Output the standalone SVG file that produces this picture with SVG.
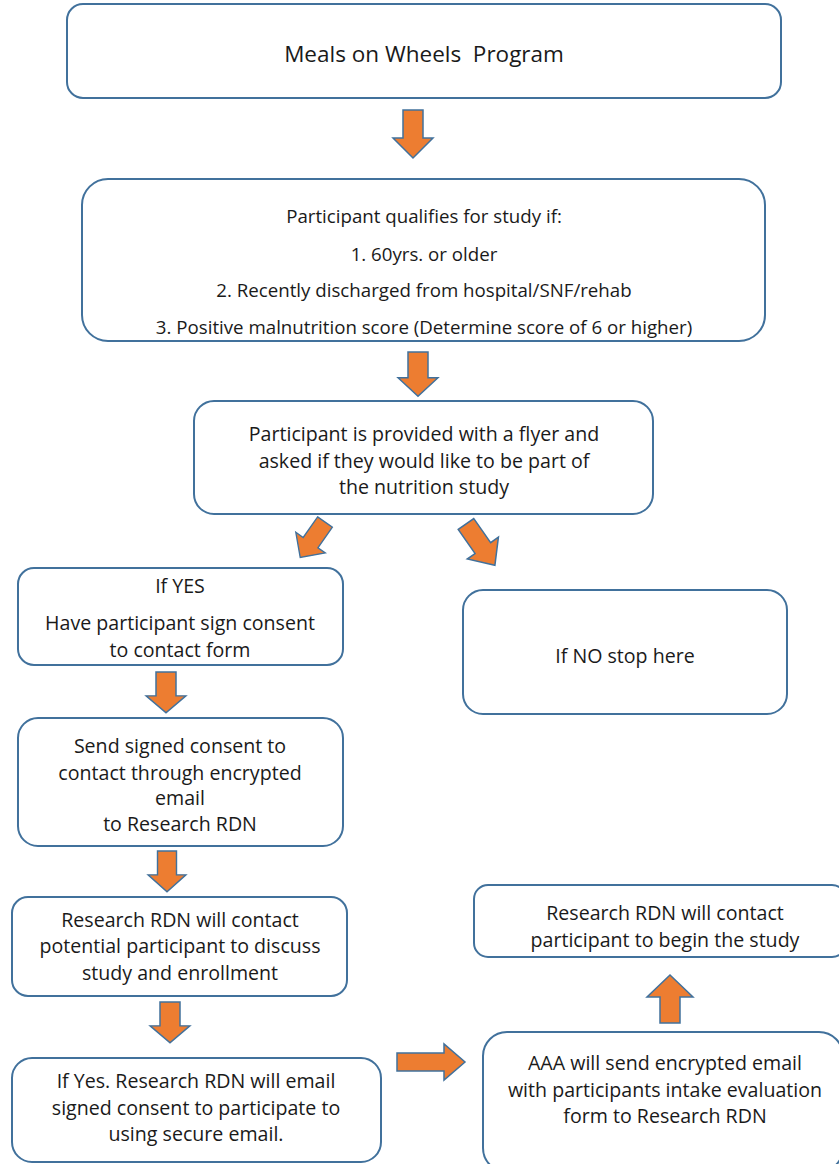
<svg xmlns="http://www.w3.org/2000/svg" width="839" height="1164" viewBox="0 0 839 1164">
<defs>
<style>
.box{fill:#ffffff;stroke:#41719C;stroke-width:2}
.arr{fill:#ED7D31;stroke:#41719C;stroke-width:1.5;stroke-linejoin:miter}
text{font-family:"Open Sans","Liberation Sans",sans-serif;font-size:19.6px;fill:#1a1a1a;text-anchor:middle;white-space:pre}
.s2{font-size:18.7px}
</style>
<path id="down" d="M-10,0 H10 V28 H20 L0,48 L-20,28 H-10 Z"/>
</defs>
<rect width="839" height="1164" fill="#ffffff"/>
<g id="connectors">
<use href="#down" class="arr" transform="translate(413,110)"/>
<use href="#down" class="arr" transform="translate(418,352) scale(1,0.92)"/>
<use href="#down" class="arr" transform="translate(325,522) rotate(35) scale(0.9,0.9)"/>
<use href="#down" class="arr" transform="translate(466,524) rotate(-35) scale(0.95,1.05)"/>
<use href="#down" class="arr" transform="translate(166,672) scale(1,0.85)"/>
<use href="#down" class="arr" transform="translate(167,851) scale(0.95,0.85)"/>
<use href="#down" class="arr" transform="translate(170,1002) scale(1,0.85)"/>
<path class="arr" d="M397,1053 H444 V1044 L465,1062 L444,1080 V1071 H397 Z"/>
<path class="arr" d="M660,1023 V997 H647 L670,975 L693,997 H680 V1023 Z"/>
</g>
<g id="n1"><rect class="box" x="67" y="4" width="714" height="94" rx="16"/><text x="424" y="62" style="font-size:22.5px">Meals on Wheels  Program</text></g>
<g id="n2"><rect class="box" x="82" y="179" width="683" height="162" rx="26"/>
<text class="s2" x="424" y="223">Participant qualifies for study if:</text>
<text class="s2" x="424" y="261">1. 60yrs. or older</text>
<text class="s2" x="424" y="297">2. Recently discharged from hospital/SNF/rehab</text>
<text class="s2" x="424" y="334">3. Positive malnutrition score (Determine score of 6 or higher)</text></g>
<g id="n3"><rect class="box" x="194" y="401" width="459" height="113" rx="20"/>
<text x="424" y="441">Participant is provided with a flyer and</text>
<text x="424" y="468">asked if they would like to be part of</text>
<text x="424" y="494">the nutrition study</text></g>
<g id="n4"><rect class="box" x="18" y="568" width="325" height="97" rx="16"/>
<text x="180" y="593">If YES</text>
<text x="180" y="630">Have participant sign consent</text>
<text x="180" y="657">to contact form</text></g>
<g id="n5"><rect class="box" x="463" y="590" width="324" height="124" rx="20"/>
<text x="625" y="663">If NO stop here</text></g>
<g id="n6"><rect class="box" x="18" y="718" width="325" height="128" rx="20"/>
<text x="180" y="753">Send signed consent to</text>
<text x="180" y="780">contact through encrypted</text>
<text x="180" y="805">email</text>
<text x="180" y="831">to Research RDN</text></g>
<g id="n7"><rect class="box" x="12" y="897" width="335" height="99" rx="16"/>
<text x="180" y="927">Research RDN will contact</text>
<text x="180" y="953">potential participant to discuss</text>
<text x="180" y="980">study and enrollment</text></g>
<g id="n8"><rect class="box" x="12" y="1058" width="369" height="104" rx="20"/>
<text x="196" y="1088">If Yes. Research RDN will email</text>
<text x="196" y="1115">signed consent to participate to</text>
<text x="196" y="1141">using secure email.</text></g>
<g id="n9"><rect class="box" x="474" y="885" width="372" height="72" rx="14"/>
<text x="665" y="920">Research RDN will contact</text>
<text x="665" y="947">participant to begin the study</text></g>
<g id="n10"><rect class="box" x="483" y="1032" width="360" height="140" rx="24"/>
<text x="665" y="1070">AAA will send encrypted email</text>
<text x="665" y="1097">with participants intake evaluation</text>
<text x="665" y="1123">form to Research RDN</text></g>
</svg>
